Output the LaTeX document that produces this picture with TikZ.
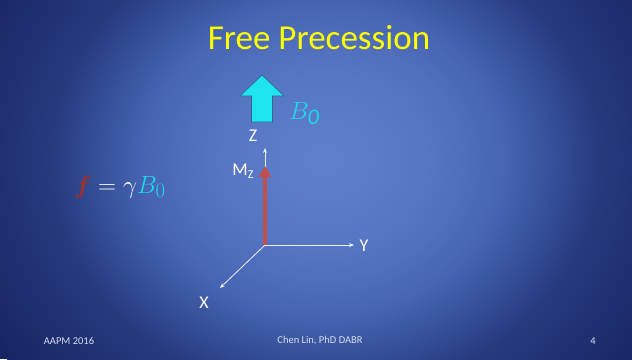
\documentclass[tikz,border=0pt]{standalone}
\usepackage{amsmath}
\usepackage{bm}
\usepackage{fontspec}
\setmainfont{Carlito}
\usetikzlibrary{arrows.meta}
\definecolor{bgA}{RGB}{94,128,204}
\definecolor{bgB}{RGB}{86,118,196}
\definecolor{bgC}{RGB}{70,100,178}
\definecolor{bgD}{RGB}{52,78,150}
\definecolor{bgE}{RGB}{38,58,125}
\definecolor{bgF}{RGB}{22,36,100}
\definecolor{titleyellow}{RGB}{255,255,0}
\definecolor{arrowcyan}{RGB}{30,228,240}
\definecolor{arrowedge}{RGB}{50,100,140}
\definecolor{bcyan}{RGB}{30,215,232}
\definecolor{mzred}{RGB}{192,80,77}
\definecolor{fred}{RGB}{165,45,42}
\definecolor{axiswhite}{RGB}{235,240,250}
\definecolor{footgrey}{RGB}{215,222,238}
\tikzset{
  axis/.style={draw=axiswhite, line width=0.8pt, -{Stealth[length=5pt,width=4pt]}},
  axlabel/.style={text=white, font=\fontsize{18}{20}\selectfont, inner sep=0pt},
  foot/.style={text=footgrey, font=\fontsize{10.5}{12}\selectfont, inner sep=0pt},
}
\begin{document}
\begin{tikzpicture}[x=1pt,y=-1pt]
\useasboundingbox (0,0) rectangle (632,359);
\begin{scope}
\clip (0,0) rectangle (632,359);
\fill[bgF] (0,0) rectangle (632,359);
\foreach \ra/\rb/\ca/\cb in {76/53/bgF/bgE,53/45/bgE/bgD,45/35/bgD/bgC,35/20/bgC/bgB,20/1/bgB/bgA}{
  \pgfmathtruncatemacro\n{2*(\ra-\rb)}
  \foreach \i in {1,...,\n}{
    \pgfmathsetmacro\r{\ra-\i/2}
    \pgfmathsetmacro\t{100*\i/\n}
    \fill[\cb!\t!\ca] (325,160) ellipse[x radius=\r*5.2pt, y radius=\r*4.5pt];
  }
}
\end{scope}
% title
\node[text=titleyellow, font=\fontsize{35}{38}\selectfont, inner sep=0pt] (title) at (319,38) {Free Precession};
% B0 block arrow
\draw[fill=arrowcyan, draw=arrowedge, line width=0.6pt, line join=miter]
  (262,75) -- (284,96) -- (272.5,96) -- (272.5,122) -- (251.5,122) -- (251.5,96) -- (240,96) -- cycle;
\node[text=bcyan, font=\fontsize{32}{34}\selectfont, inner sep=0pt, anchor=base west] (b0) at (289,119) {$B_{\mathit{0}}$};
% formula
\node[font=\fontsize{32}{36}\selectfont, inner sep=0pt, anchor=base] (formula) at (120,193)
  {$\textcolor{fred}{\bm{f}}\textcolor{white}{{}={}\gamma}\textcolor{bcyan}{B_0}$};
% axes
\coordinate (O) at (265,245);
\coordinate (Ztip) at (265,148);
\coordinate (Ytip) at (354,245);
\coordinate (Xtip) at (220,288);
\draw[axis] (O) -- (Ztip);
\draw[axis] (O) -- (Ytip);
\draw[axis] (O) -- (Xtip);
\node[axlabel] (zl) at (253,136) {Z};
\node[axlabel] (yl) at (364,246) {Y};
\node[axlabel] (xl) at (204,303) {X};
% Mz
\coordinate (Mtip) at (265,166);
\draw[draw=mzred, line width=3.5pt, -{Triangle[width=12pt,length=11pt]}] (O) -- (Mtip);
\node[axlabel] (mz) at (243,171) {M\raisebox{-0.35ex}{\fontsize{12}{14}\selectfont Z}};
% footer
\node[foot] (f1) at (69,341) {AAPM 2016};
\node[foot] (f2) at (320,341) {Chen Lin, PhD DABR};
\node[foot] (f3) at (593,341) {4};
\end{tikzpicture}
\end{document}
